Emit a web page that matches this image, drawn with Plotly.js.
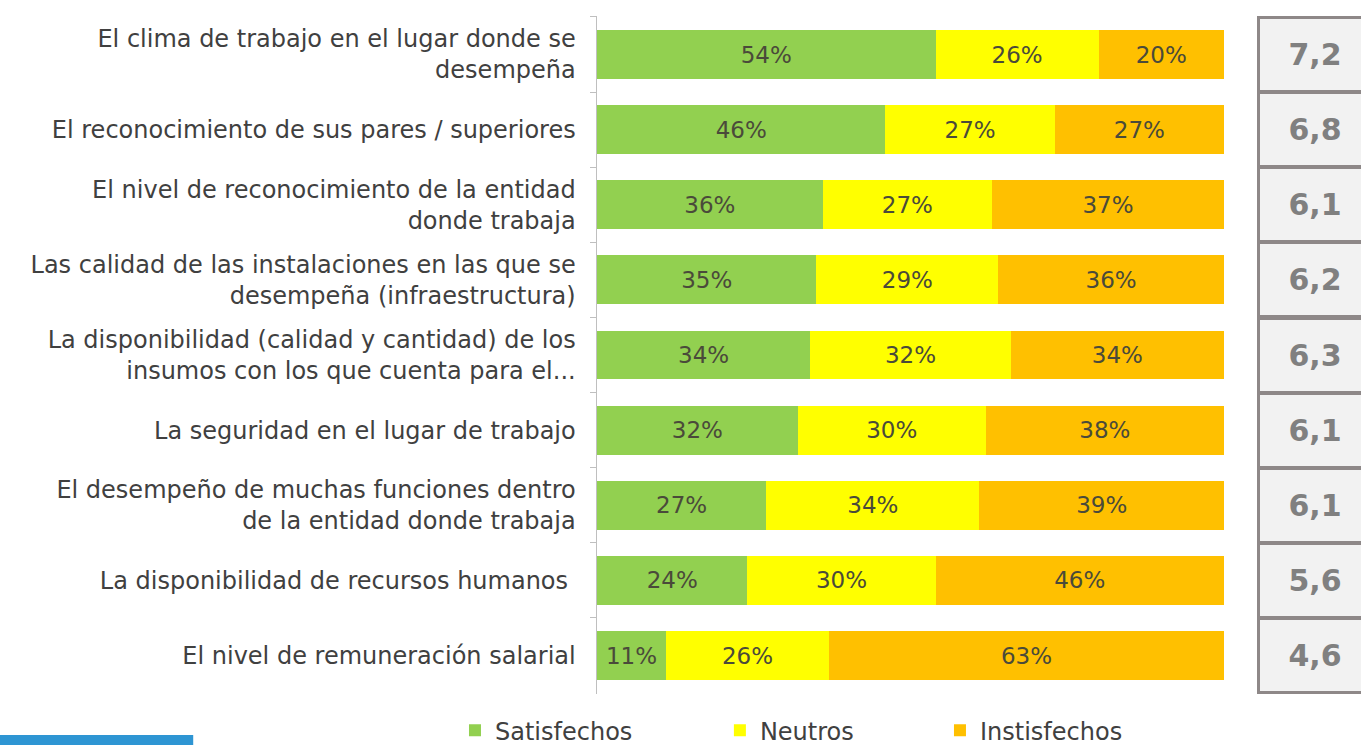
<!DOCTYPE html>
<html>
<head>
<meta charset="utf-8">
<script src="https://cdn.plot.ly/plotly-3.0.1.min.js"></script>
<style>
  html, body { margin: 0; padding: 0; background: #fff; }
  #chart { width: 1361px; height: 745px; }
</style>
</head>
<body>
<div id="chart"></div>
<script>
// aspectos evaluados (de arriba hacia abajo)
const categories = [
  'El clima de trabajo en el lugar donde se<br>desempeña',
  'El reconocimiento de sus pares / superiores',
  'El nivel de reconocimiento de la entidad<br>donde trabaja',
  'Las calidad de las instalaciones en las que se<br>desempeña (infraestructura)',
  'La disponibilidad (calidad y cantidad) de los<br>insumos con los que cuenta para el...',
  'La seguridad en el lugar de trabajo',
  'El desempeño de muchas funciones dentro<br>de la entidad donde trabaja',
  'La disponibilidad de recursos humanos\u00a0',
  'El nivel de remuneración salarial'
];
const satisfechos   = [54, 46, 36, 35, 34, 32, 27, 24, 11];
const neutros       = [26, 27, 27, 29, 32, 30, 34, 30, 26];
const insatisfechos = [20, 27, 37, 36, 34, 38, 39, 46, 63];
const notas = ['7,2', '6,8', '6,1', '6,2', '6,3', '6,1', '6,1', '5,6', '4,6'];

const fam = 'DejaVu Sans, Verdana, sans-serif';
const labelFont = {family: fam, size: 24, color: '#404040'};
const barFont = {family: fam, size: 23, color: '#4a4a3a'};

function serie(nombre, valores, color, leyenda) {
  return {
    type: 'bar',
    orientation: 'h',
    name: nombre,
    legend: leyenda,
    y: categories,
    x: valores,
    marker: {color: color},
    texttemplate: '%{x}%',
    textposition: 'inside',
    insidetextanchor: 'middle',
    textfont: barFont,
    hoverinfo: 'skip'
  };
}

const data = [
  serie('Satisfechos', satisfechos, '#92d050', 'legend'),
  serie('Neutros', neutros, '#ffff00', 'legend2'),
  serie('Instisfechos', insatisfechos, '#ffc000', 'legend3')
];

// celdas con la nota promedio a la derecha
const notasAnn = notas.map((n, i) => ({
  xref: 'paper', yref: 'y',
  x: 1.145, xanchor: 'center',
  y: categories[i], yanchor: 'middle',
  text: '<b>' + n + '</b>',
  showarrow: false,
  width: 110, height: 71,
  bgcolor: '#f2f2f2',
  bordercolor: '#8e8888',
  borderwidth: 3,
  borderpad: 0,
  font: {family: fam, size: 30, color: '#808080'}
}));

function leyenda(x) {
  return {
    orientation: 'h',
    x: x, xanchor: 'left',
    y: -0.021, yanchor: 'top',
    font: labelFont,
    itemwidth: 30,
    bgcolor: 'rgba(0,0,0,0)'
  };
}

const layout = {
  width: 1361, height: 745,
  margin: {t: 16, b: 51, l: 597, r: 137, autoexpand: false},
  paper_bgcolor: '#ffffff',
  plot_bgcolor: '#ffffff',
  barmode: 'stack',
  bargap: 0.35,
  showlegend: true,
  legend: leyenda(-0.2265),
  legend2: leyenda(0.196),
  legend3: leyenda(0.547),
  xaxis: {
    autorange: false,
    range: [0, 100],
    showticklabels: false,
    showgrid: false,
    zeroline: false,
    showline: false,
    ticks: '',
    fixedrange: true
  },
  yaxis: {
    autorange: 'reversed',
    type: 'category',
    automargin: false,
    showline: true,
    linecolor: '#bfbfbf',
    linewidth: 1.5,
    ticks: 'outside',
    tickson: 'boundaries',
    ticklen: 6,
    tickcolor: '#bfbfbf',
    ticklabelstandoff: 15,
    tickfont: labelFont,
    showgrid: false,
    fixedrange: true
  },
  shapes: [
    {type: 'rect', xref: 'paper', yref: 'paper',
     x0: -0.96, x1: -0.644, y0: -0.0605, y1: -0.08,
     fillcolor: '#2e95d3', line: {width: 0}}
  ],
  annotations: notasAnn
};

Plotly.newPlot('chart', data, layout, {displayModeBar: false, staticPlot: true});
</script>
</body>
</html>
